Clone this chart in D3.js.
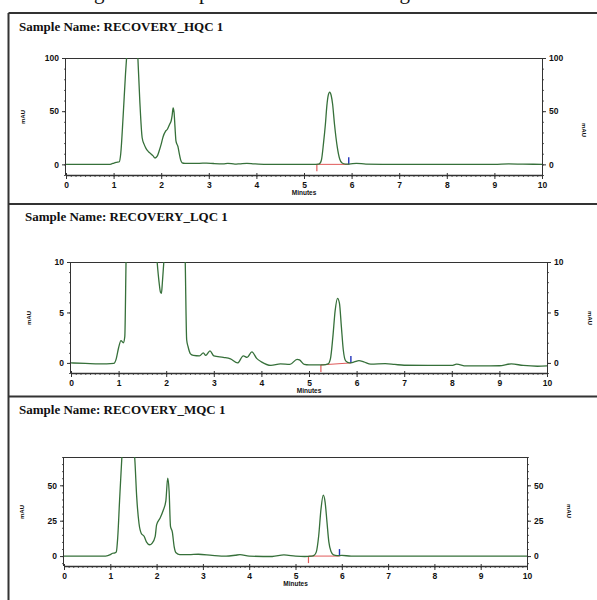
<!DOCTYPE html>
<html><head><meta charset="utf-8">
<script src="https://cdn.jsdelivr.net/npm/d3@7"></script>
<style>html,body{margin:0;padding:0;background:#fff;}svg{display:block;}</style>
</head><body>
<script>
// ---------- DATA ----------
const captionText = "Chromatogram of samples at all levels showing recovered amounts";
const panelTitles = ["Sample Name: RECOVERY_HQC 1", "Sample Name: RECOVERY_LQC 1", "Sample Name: RECOVERY_MQC 1"];
const xTickValues = [0,1,2,3,4,5,6,7,8,9,10];
const xLabel = "Minutes";
const yLabel = "mAU";
const hqcYTicks = [0,50,100];
const lqcYTicks = [0,5,10];
const mqcYTicks = [0,25,50];

// [minutes, mAU]
const hqcTrace = [[0,0],[0.5,0],[0.9,0],[0.95,0.3],[1.0,1],[1.05,1.8],[1.08,2],[1.12,2.5],[1.15,10],[1.2,45],[1.25,85],[1.28,105],[1.35,140],[1.42,150],[1.5,110],[1.55,60],[1.6,25],[1.64,19],[1.68,15],[1.73,12],[1.78,10],[1.83,8],[1.87,6],[1.92,8],[1.96,13],[2.0,19],[2.04,26],[2.09,31],[2.13,33],[2.18,38],[2.21,41],[2.23,46],[2.25,53],[2.27,49],[2.29,35],[2.31,22],[2.33,19],[2.35,17],[2.38,10],[2.41,4],[2.44,1.5],[2.5,1],[2.6,1],[2.8,1],[2.95,1.2],[3.1,0.8],[3.3,0.5],[3.4,1],[3.55,0.2],[3.65,0.5],[3.8,1],[3.95,0.5],[4.2,0],[4.5,0],[4.8,0],[5.0,0],[5.2,0],[5.3,0.2],[5.34,1.3],[5.37,5],[5.41,20],[5.45,38],[5.48,55],[5.51,65],[5.54,68],[5.57,65],[5.6,57],[5.64,38],[5.7,16],[5.75,5],[5.8,1.3],[5.87,0.3],[5.95,0.3],[6.1,1],[6.3,0.3],[7,0],[7.5,0],[8,0],[8.5,0],[9,0],[9.3,0.4],[9.6,0.2],[10,0]];
const lqcTrace = [[0,0],[0.3,-0.05],[0.6,-0.1],[0.9,-0.05],[0.95,0.4],[1.0,1.5],[1.05,2.2],[1.1,2.0],[1.13,2.6],[1.16,11],[1.3,25],[1.6,20],[1.78,12],[1.81,10],[1.85,8],[1.88,7],[1.9,6.9],[1.92,8],[1.95,10],[1.98,12],[2.1,25],[2.35,20],[2.4,10],[2.43,2.3],[2.46,1.6],[2.51,0.9],[2.57,0.75],[2.7,0.7],[2.78,1.0],[2.83,0.75],[2.92,1.2],[3.0,0.7],[3.2,0.55],[3.35,0.4],[3.5,0],[3.62,0.7],[3.7,0.55],[3.8,1.1],[3.9,0.45],[4.0,0.1],[4.2,-0.25],[4.4,-0.1],[4.6,-0.15],[4.75,0.35],[4.8,0.3],[4.9,-0.15],[5.0,-0.2],[5.3,-0.2],[5.4,-0.1],[5.45,0.4],[5.5,2.5],[5.55,5.2],[5.6,6.4],[5.64,5.9],[5.68,3.6],[5.72,1.3],[5.77,0.2],[5.85,0],[5.95,0.1],[6.05,0.23],[6.15,0.1],[6.3,-0.13],[6.6,-0.07],[6.8,-0.15],[7.0,-0.23],[7.5,-0.25],[8.0,-0.25],[8.1,-0.13],[8.3,-0.3],[8.6,-0.3],[9.0,-0.28],[9.25,-0.1],[9.5,-0.25],[9.8,-0.33],[10,-0.3]];
const mqcTrace = [[0,0],[0.5,0],[0.9,0],[1.0,1],[1.05,2],[1.1,2.3],[1.13,3],[1.16,13],[1.2,39],[1.25,70],[1.3,95],[1.4,110],[1.5,80],[1.53,68],[1.57,42],[1.62,23],[1.67,16],[1.73,14],[1.78,10],[1.85,8],[1.9,9],[1.97,14],[2.0,22],[2.07,26.5],[2.14,32],[2.2,39],[2.24,55],[2.27,46],[2.3,21],[2.34,17],[2.38,6.5],[2.42,2.3],[2.5,1],[2.7,1],[2.9,1.3],[3.2,0.5],[3.5,0],[3.7,0.6],[3.8,1],[4.0,0],[4.5,-0.3],[4.75,0.8],[5.0,0],[5.2,-0.3],[5.35,0],[5.4,0.5],[5.45,3],[5.5,14],[5.55,33],[5.6,43],[5.64,38],[5.68,24],[5.72,10],[5.77,3],[5.82,0.8],[5.9,0.3],[6.0,0.5],[6.2,0],[7,0],[8,0],[9,0],[10,0]];

// integration baseline: [startTime, startValue, endTime, endValue]
const hqcBaseline = [5.27, 0, 5.94, 0];
const lqcBaseline = [5.25, -0.2, 5.88, 0];
const mqcBaseline = [5.28, 0, 5.95, 0];

// ---------- LAYOUT ----------
const W = 597, H = 600;
const svg = d3.select("body").append("svg").attr("width", W).attr("height", H);
svg.append("rect").attr("width", W).attr("height", H).attr("fill", "#fff");

// caption, cut off at the top edge as in the reference
svg.append("text").attr("x", 10).attr("y", -1).attr("font-family", "Liberation Serif, Times New Roman, serif")
  .attr("font-size", 21).attr("fill", "#111").text(captionText);

// outer frame
const frame = svg.append("g").attr("stroke", "#333").attr("stroke-width", 2).attr("fill", "none");
frame.append("line").attr("x1", 8.5).attr("x2", W + 5).attr("y1", 13).attr("y2", 13);
frame.append("line").attr("x1", 8.5).attr("x2", 8.5).attr("y1", 13).attr("y2", H + 5);
frame.append("line").attr("x1", 8.5).attr("x2", W + 5).attr("y1", 204).attr("y2", 204);
frame.append("line").attr("x1", 8.5).attr("x2", W + 5).attr("y1", 396.5).attr("y2", 396.5);

const panels = [
  {title: panelTitles[0], tx: 19, ty: 31, left: 66, right: 542, top: 58, bottom: 175, ydom: [-10, 100], yt: hqcYTicks, minorY: 10,
   trace: hqcTrace, base: hqcBaseline, mL: [23, 117], mR: [584, 130]},
  {title: panelTitles[1], tx: 25, ty: 221, left: 71, right: 547, top: 262, bottom: 373, ydom: [-1, 10], yt: lqcYTicks, minorY: 1,
   trace: lqcTrace, base: lqcBaseline, mL: [29, 318], mR: [590, 318]},
  {title: panelTitles[2], tx: 19, ty: 414, left: 64, right: 527, top: 457, bottom: 566, ydom: [-7, 70], yt: mqcYTicks, minorY: 5,
   trace: mqcTrace, base: mqcBaseline, mL: [22, 512], mR: [569, 511]}
];

const axisColor = "#333";
const lineColor = "#36703a";
const sansBold = "Liberation Sans, Arial, sans-serif";

panels.forEach((p, i) => {
  const g = svg.append("g");
  g.append("text").attr("x", p.tx).attr("y", p.ty).attr("font-family", "Liberation Serif, Times New Roman, serif")
    .attr("font-weight", "bold").attr("font-size", 13).attr("fill", "#111").text(p.title);

  const x = d3.scaleLinear().domain([0, 10]).range([p.left, p.right]);
  const y = d3.scaleLinear().domain(p.ydom).range([p.bottom, p.top]);

  g.append("line").attr("x1", p.left).attr("x2", p.right).attr("y1", p.top + 0.5).attr("y2", p.top + 0.5)
    .attr("stroke", axisColor).attr("stroke-width", 1);

  const minorX = d3.range(0, 10.001, 0.1).map(v => +v.toFixed(1));
  const yMinorVals = d3.range(Math.ceil(p.ydom[0] / p.minorY) * p.minorY, p.ydom[1] + 0.0001, p.minorY);

  // bottom axis
  const xAxis = d3.axisBottom(x).tickValues(xTickValues).tickSize(4).tickPadding(3).tickFormat(d3.format("d"));
  const gx = g.append("g").attr("transform", `translate(0,${p.bottom})`).call(xAxis);
  gx.select(".domain").attr("stroke", axisColor).attr("stroke-width", 1.3).attr("d", `M${p.left},0.5H${p.right}`);
  gx.selectAll(".tick line").attr("stroke", axisColor).attr("y1", -2).attr("stroke-width", 1);
  gx.selectAll(".tick text").attr("font-family", sansBold).attr("font-weight", "bold").attr("font-size", 8.5).attr("fill", "#111");
  const gxm = g.append("g").attr("transform", `translate(0,${p.bottom})`).call(
    d3.axisBottom(x).tickValues(minorX).tickSize(2).tickFormat(""));
  gxm.select(".domain").remove();
  gxm.selectAll(".tick line").attr("stroke", axisColor).attr("stroke-width", 0.8);

  // left axis
  const yAxisL = d3.axisLeft(y).tickValues(p.yt).tickSize(4).tickPadding(3).tickFormat(d3.format("d"));
  const gyl = g.append("g").attr("transform", `translate(${p.left},0)`).call(yAxisL);
  gyl.select(".domain").attr("stroke", axisColor).attr("d", `M-0.5,${p.top}V${p.bottom}`);
  gyl.selectAll(".tick line").attr("stroke", axisColor);
  gyl.selectAll(".tick text").attr("font-family", sansBold).attr("font-weight", "bold").attr("font-size", 8.5).attr("fill", "#111");
  const gylm = g.append("g").attr("transform", `translate(${p.left},0)`).call(
    d3.axisLeft(y).tickValues(yMinorVals).tickSize(2).tickFormat(""));
  gylm.select(".domain").remove();
  gylm.selectAll(".tick line").attr("stroke", axisColor).attr("stroke-width", 0.8);

  // right axis
  const yAxisR = d3.axisRight(y).tickValues(p.yt).tickSize(4).tickPadding(3).tickFormat(d3.format("d"));
  const gyr = g.append("g").attr("transform", `translate(${p.right},0)`).call(yAxisR);
  gyr.select(".domain").attr("stroke", axisColor).attr("d", `M0.5,${p.top}V${p.bottom}`);
  gyr.selectAll(".tick line").attr("stroke", axisColor);
  gyr.selectAll(".tick text").attr("font-family", sansBold).attr("font-weight", "bold").attr("font-size", 8.5).attr("fill", "#111");
  const gyrm = g.append("g").attr("transform", `translate(${p.right},0)`).call(
    d3.axisRight(y).tickValues(yMinorVals).tickSize(2).tickFormat(""));
  gyrm.select(".domain").remove();
  gyrm.selectAll(".tick line").attr("stroke", axisColor).attr("stroke-width", 0.8);

  // axis labels
  g.append("text").attr("x", (p.left + p.right) / 2).attr("y", p.bottom + 20).attr("text-anchor", "middle")
    .attr("font-family", sansBold).attr("font-weight", "bold").attr("font-size", 6.5).attr("fill", "#111").text(xLabel);
  g.append("text").attr("transform", `translate(${p.mL[0]},${p.mL[1]}) rotate(-90)`).attr("text-anchor", "middle")
    .attr("dy", "0.35em").attr("font-family", sansBold).attr("font-weight", "bold").attr("font-size", 6).attr("fill", "#111").text(yLabel);
  g.append("text").attr("transform", `translate(${p.mR[0]},${p.mR[1]}) rotate(90)`).attr("text-anchor", "middle")
    .attr("dy", "0.35em").attr("font-family", sansBold).attr("font-weight", "bold").attr("font-size", 6).attr("fill", "#111").text(yLabel);

  // clip
  const cid = "clip" + i;
  svg.append("clipPath").attr("id", cid).append("rect")
    .attr("x", p.left).attr("y", p.top).attr("width", p.right - p.left).attr("height", p.bottom - p.top);

  // integration baseline
  const b = p.base;
  g.append("line").attr("x1", x(b[0])).attr("y1", y(b[1])).attr("x2", x(b[2])).attr("y2", y(b[3]))
    .attr("stroke", "#e05a5a").attr("stroke-width", 1);
  g.append("line").attr("x1", x(b[0])).attr("y1", y(b[1])).attr("x2", x(b[0])).attr("y2", y(b[1]) + 7)
    .attr("stroke", "#e05a5a").attr("stroke-width", 1.2);
  g.append("line").attr("x1", x(b[2])).attr("y1", y(b[3])).attr("x2", x(b[2])).attr("y2", y(b[3]) - 7)
    .attr("stroke", "#2233bb").attr("stroke-width", 1.4);

  // trace
  const line = d3.line().x(d => x(d[0])).y(d => y(d[1])).curve(d3.curveMonotoneX);
  g.append("path").attr("clip-path", `url(#${cid})`).datum(p.trace).attr("d", line)
    .attr("fill", "none").attr("stroke", lineColor).attr("stroke-width", 1.3);
});
</script>
</body></html>
